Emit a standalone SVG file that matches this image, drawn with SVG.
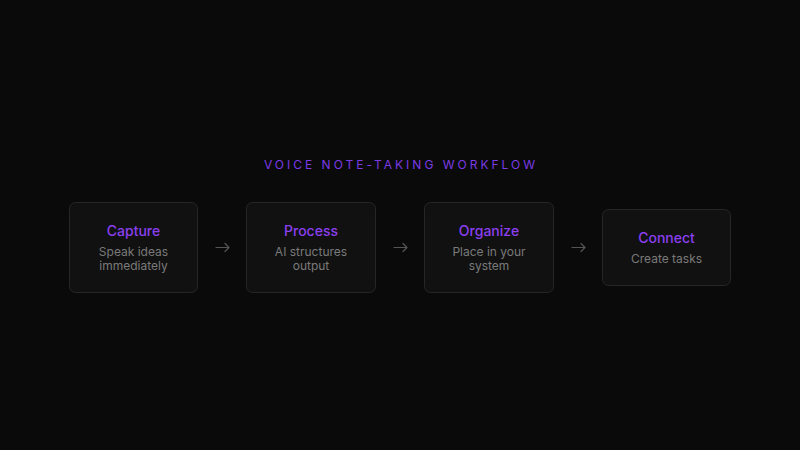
<svg xmlns="http://www.w3.org/2000/svg" width="800" height="450" viewBox="0 0 800 450">
<style>
.box{fill:#111111;stroke:#262626;stroke-width:1}
.t{font-family:Inter,"Liberation Sans",sans-serif;font-size:14px;font-weight:500;fill:#8b3ff0;text-anchor:middle}
.s{font-family:Inter,"Liberation Sans",sans-serif;font-size:12px;fill:#7a7a7a;text-anchor:middle}
.h{font-family:Inter,"Liberation Sans",sans-serif;font-size:12px;fill:#7b3ae6;text-anchor:middle;letter-spacing:3px}
.a{fill:none;stroke:#555;stroke-width:1.2;stroke-linecap:round;stroke-linejoin:round}
</style>
<rect width="800" height="450" fill="#0a0a0a"/>
<text class="h" x="401" y="169">VOICE NOTE-TAKING WORKFLOW</text>
<g id="capture">
<rect class="box" x="69.5" y="202.5" width="128" height="90" rx="6"/>
<text class="t" x="133.5" y="236">Capture</text>
<text class="s" x="133.5" y="256">Speak ideas</text>
<text class="s" x="133.5" y="270">immediately</text>
</g>
<g id="process">
<rect class="box" x="246.5" y="202.5" width="129" height="90" rx="6"/>
<text class="t" x="311" y="236">Process</text>
<text class="s" x="311" y="256">AI structures</text>
<text class="s" x="311" y="270">output</text>
</g>
<g id="organize">
<rect class="box" x="424.5" y="202.5" width="129" height="90" rx="6"/>
<text class="t" x="489" y="236">Organize</text>
<text class="s" x="489" y="256">Place in your</text>
<text class="s" x="489" y="270">system</text>
</g>
<g id="connect">
<rect class="box" x="602.5" y="209.5" width="128" height="76" rx="6"/>
<text class="t" x="666.5" y="243">Connect</text>
<text class="s" x="666.5" y="263">Create tasks</text>
</g>
<g id="connectors">
<path class="a" d="M216 247.5h13M225 243.5l4 4-4 4"/>
<path class="a" d="M394 247.5h13M403 243.5l4 4-4 4"/>
<path class="a" d="M572 247.5h13M581 243.5l4 4-4 4"/>
</g>
</svg>
